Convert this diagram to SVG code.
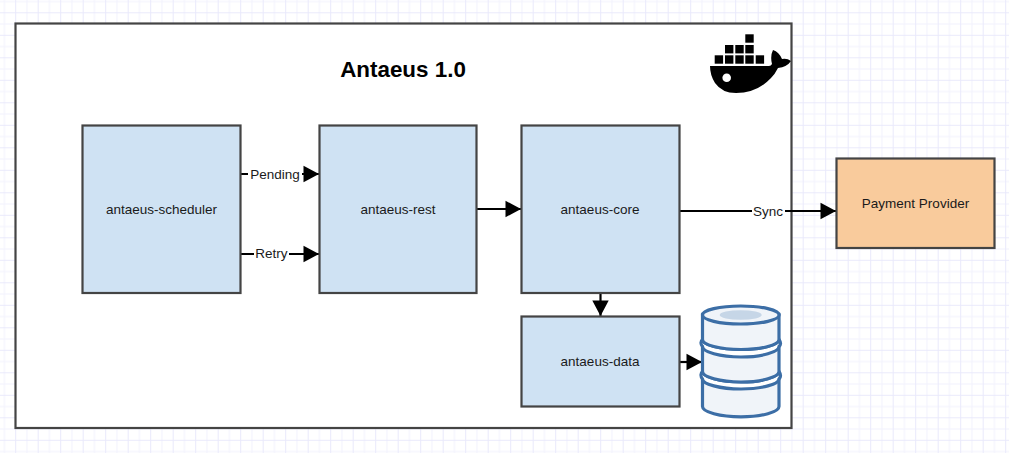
<svg xmlns="http://www.w3.org/2000/svg" width="1009" height="453" viewBox="0 0 1009 453">
<style>
.box{stroke:#444;stroke-width:2.2}
.blue{fill:#cfe2f3}
.t{font-family:"Liberation Sans",Arial,sans-serif;font-size:13.5px;fill:#1a1a1a;text-anchor:middle}
.title{font-family:"Liberation Sans",Arial,sans-serif;font-size:22.4px;font-weight:bold;fill:#000;text-anchor:middle}
.c{fill:none;stroke:#000;stroke-width:2.2}
.db{fill:#f0f4f9;stroke:#3c6ea6;stroke-width:3.2}
</style>
<defs>
<pattern id="grid" width="22.5" height="22.5" patternUnits="userSpaceOnUse" x="15.2" y="12.3">
<path d="M11.75 0V22.5M0 11.75H22.5" stroke="#f2f2fd" stroke-width="1" fill="none"/>
<path d="M0.5 0V22.5M0 0.5H22.5" stroke="#e9e9fb" stroke-width="1" fill="none"/>
</pattern>
<marker id="arrow" markerUnits="userSpaceOnUse" markerWidth="16" markerHeight="18" refX="16" refY="9" orient="auto">
<path d="M0.5 0.800L16 9L0.500 17.200Z" fill="#000"/>
</marker>
</defs>
<rect width="1009" height="453" fill="#fff"/>
<rect width="1009" height="453" fill="url(#grid)"/>
<g id="frame">
<rect class="box" x="15.500" y="23.500" width="776" height="404.500" fill="#fff"/>
<text class="title" x="403" y="77">Antaeus 1.0</text>
</g>
<g id="docker-logo" fill="#000">
<rect x="745.300" y="34.300" width="8.400" height="8.400"/>
<rect x="725" y="45" width="8.400" height="8.400"/>
<rect x="735.300" y="45" width="8.400" height="8.400"/>
<rect x="745.300" y="45" width="8.400" height="8.400"/>
<rect x="714.700" y="55.300" width="8.400" height="8.400"/>
<rect x="725" y="55.300" width="8.400" height="8.400"/>
<rect x="735.300" y="55.300" width="8.400" height="8.400"/>
<rect x="745.300" y="55.300" width="8.400" height="8.400"/>
<rect x="755.700" y="55.300" width="8.400" height="8.400"/>
<path d="M710 66H769Q771 66 772 64Q770 56 773 50Q779 52 782 59Q787 58 791 61Q787 67 778 68Q775 74 771 78Q757 93 736 93Q722 93 715 83Q710 75 710 66Z"/>
<circle cx="726.700" cy="77.700" r="4.300" fill="#fff"/>
</g>
<g id="connectors">
<path class="c" d="M241 174H319" marker-end="url(#arrow)"/>
<path class="c" d="M241 254H319" marker-end="url(#arrow)"/>
<path class="c" d="M477 209H521" marker-end="url(#arrow)"/>
<path class="c" d="M680 211H836" marker-end="url(#arrow)"/>
<path class="c" d="M600.500 293V316" marker-end="url(#arrow)"/>
<path class="c" d="M680 362H702" marker-end="url(#arrow)"/>
<rect x="248" y="166" width="54" height="16" fill="#fff"/>
<text class="t" x="275" y="179">Pending</text>
<rect x="254" y="246" width="35" height="16" fill="#fff"/>
<text class="t" x="271.500" y="258">Retry</text>
<rect x="752" y="203" width="33" height="16" fill="#fff"/>
<text class="t" x="768" y="216">Sync</text>
</g>
<g id="antaeus-scheduler">
<rect class="box blue" x="82.500" y="125.500" width="158" height="167.500"/>
<text class="t" x="161.500" y="214">antaeus-scheduler</text>
</g>
<g id="antaeus-rest">
<rect class="box blue" x="319.500" y="125.500" width="157" height="167.500"/>
<text class="t" x="398" y="214">antaeus-rest</text>
</g>
<g id="antaeus-core">
<rect class="box blue" x="521.500" y="125.500" width="158" height="167.500"/>
<text class="t" x="600" y="214">antaeus-core</text>
</g>
<g id="antaeus-data">
<rect class="box blue" x="521.500" y="316.500" width="158" height="90"/>
<text class="t" x="600" y="366">antaeus-data</text>
</g>
<g id="database">
<path class="db" d="M702.500 379V406.500C702.500 412 720 416.800 741 416.800C762 416.800 779 412 779 406.500V379Z"/>
<path class="db" d="M702.500 379C702.500 384 720 389 741 389C762 389 779 384 779 379C782 376 780 373 779 371.500C779 377 762 382 741 382C720 382 702.500 377 702.500 371.500C701 373 700 376 702.500 379Z" style="fill:#fff"/>
<path class="db" d="M702.500 346.500V371.500C702.500 377 720 382 741 382C762 382 779 377 779 371.500V346.500Z"/>
<path class="db" d="M702.500 346.500C702.500 352 720 357 741 357C762 357 779 352 779 346.500C782 344 780 341 779 339.500C779 345 762 349.500 741 349.500C720 349.500 702.500 345 702.500 339.500C701 341 700 344 702.500 346.500Z" style="fill:#fff"/>
<path class="db" d="M702.500 315V339.500C702.500 345 720 349.500 741 349.500C762 349.500 779 345 779 339.500V315Z"/>
<ellipse class="db" cx="740.800" cy="315" rx="38.300" ry="9"/>
<ellipse cx="740.700" cy="315" rx="21" ry="4.800" fill="#c6d6e7"/>
</g>
<g id="payment-provider">
<rect class="box" x="836.500" y="158.500" width="158" height="89.500" fill="#f9cb9c"/>
<text class="t" x="915.500" y="208">Payment Provider</text>
</g>
</svg>
